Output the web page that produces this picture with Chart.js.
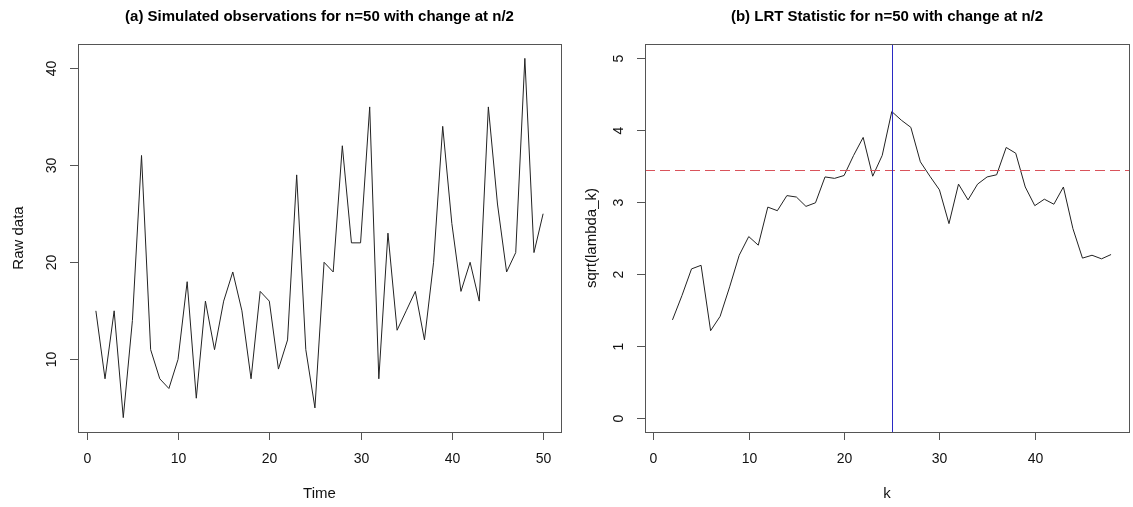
<!DOCTYPE html>
<html>
<head>
<meta charset="utf-8">
<script src="https://cdn.jsdelivr.net/npm/chart.js@4.4.1/dist/chart.umd.min.js"></script>
<style>
  body { margin: 0; background: #fff; }
  .panel { position: absolute; top: 0; }
</style>
</head>
<body>
<div class="panel" style="left:0px"><canvas id="rawChart" width="566" height="507"></canvas></div>
<div class="panel" style="left:566px"><canvas id="lrtChart" width="567" height="507"></canvas></div>
<script>
// Panel (a): simulated observations
const timeIdx = [1, 2, 3, 4, 5, 6, 7, 8, 9, 10, 11, 12, 13, 14, 15, 16, 17, 18, 19, 20,
  21, 22, 23, 24, 25, 26, 27, 28, 29, 30, 31, 32, 33, 34, 35, 36, 37, 38, 39, 40,
  41, 42, 43, 44, 45, 46, 47, 48, 49, 50];
const rawData = [15, 8, 15, 4, 14, 31, 11, 8, 7, 10, 18, 6, 16, 11, 16, 19, 15, 8, 17, 16,
  9, 12, 29, 11, 5, 20, 19, 32, 22, 22, 36, 8, 23, 13, 15, 17, 12, 20, 34, 24,
  17, 20, 16, 36, 26, 19, 21, 41, 21, 25];

// Panel (b): LRT statistic
const kIdx = [2, 3, 4, 5, 6, 7, 8, 9, 10, 11, 12, 13, 14, 15, 16, 17, 18, 19, 20, 21,
  22, 23, 24, 25, 26, 27, 28, 29, 30, 31, 32, 33, 34, 35, 36, 37, 38, 39, 40, 41,
  42, 43, 44, 45, 46, 47, 48];
const sqrtLambda = [1.36, 1.70, 2.07, 2.12, 1.21, 1.41, 1.82, 2.26, 2.52, 2.40, 2.93, 2.88, 3.09, 3.07, 2.94, 2.99, 3.35, 3.33, 3.37, 3.65,
  3.90, 3.36, 3.65, 4.26, 4.14, 4.04, 3.56, 3.36, 3.17, 2.70, 3.25, 3.03, 3.25, 3.35, 3.38, 3.76, 3.68, 3.21, 2.95, 3.04,
  2.97, 3.21, 2.63, 2.22, 2.26, 2.21, 2.27];
const threshold = 3.44;
const changePoint = 25;

// tick labels
const rawXTicks = [0, 10, 20, 30, 40, 50];
const rawYTicks = [10, 20, 30, 40];
const lrtXTicks = [0, 10, 20, 30, 40];
const lrtYTicks = [0, 1, 2, 3, 4, 5];

const FONT = '"Liberation Sans", Arial, sans-serif';

// draws the R-style frame, ticks, labels and titles
function rFrame(opts) {
  return {
    id: 'rFrame',
    afterDraw(chart) {
      const ctx = chart.ctx;
      const a = chart.chartArea;
      const xs = chart.scales.x, ys = chart.scales.y;
      ctx.save();

      // reference lines (abline)
      if (opts.hline !== undefined) {
        const y = Math.round(ys.getPixelForValue(opts.hline)) + 0.5;
        ctx.strokeStyle = '#d9535b';
        ctx.lineWidth = 1;
        ctx.setLineDash([10, 5]);
        ctx.beginPath(); ctx.moveTo(a.left, y); ctx.lineTo(a.right, y); ctx.stroke();
        ctx.setLineDash([]);
      }
      if (opts.vline !== undefined) {
        const x = Math.round(xs.getPixelForValue(opts.vline)) + 0.5;
        ctx.strokeStyle = '#2a2ac4';
        ctx.lineWidth = 1;
        ctx.beginPath(); ctx.moveTo(x, a.top); ctx.lineTo(x, a.bottom); ctx.stroke();
      }

      // box
      ctx.strokeStyle = '#555';
      ctx.lineWidth = 1;
      ctx.strokeRect(Math.round(a.left) + 0.5, Math.round(a.top) + 0.5,
        Math.round(a.right - a.left), Math.round(a.bottom - a.top));

      ctx.fillStyle = '#111';
      ctx.font = '14px ' + FONT;

      // x ticks
      ctx.textAlign = 'center';
      ctx.textBaseline = 'middle';
      opts.xTicks.forEach(v => {
        const x = Math.round(xs.getPixelForValue(v)) + 0.5;
        ctx.beginPath(); ctx.moveTo(x, a.bottom); ctx.lineTo(x, a.bottom + 8); ctx.stroke();
        ctx.fillText(String(v), x, a.bottom + 27);
      });

      // y ticks (labels rotated like R)
      opts.yTicks.forEach(v => {
        const y = Math.round(ys.getPixelForValue(v)) + 0.5;
        ctx.beginPath(); ctx.moveTo(a.left, y); ctx.lineTo(a.left - 8, y); ctx.stroke();
        ctx.save();
        ctx.translate(a.left - 26, y);
        ctx.rotate(-Math.PI / 2);
        ctx.fillText(String(v), 0, 0);
        ctx.restore();
      });

      // axis titles
      ctx.font = '15px ' + FONT;
      ctx.fillText(opts.xTitle, (a.left + a.right) / 2, a.bottom + 62);
      ctx.save();
      ctx.translate(a.left - opts.yTitleGap, (a.top + a.bottom) / 2);
      ctx.rotate(-Math.PI / 2);
      ctx.fillText(opts.yTitle, 0, 0);
      ctx.restore();

      // main title
      ctx.font = 'bold 15px ' + FONT;
      ctx.fillStyle = '#000';
      ctx.fillText(opts.title, (a.left + a.right) / 2, 17);

      ctx.restore();
    }
  };
}

function makeChart(id, xs, ys, range, padding, frameOpts) {
  return new Chart(document.getElementById(id), {
    type: 'line',
    data: {
      datasets: [{
        data: xs.map((x, i) => ({ x: x, y: ys[i] })),
        borderColor: '#222',
        borderWidth: 1,
        pointRadius: 0,
        tension: 0,
        fill: false
      }]
    },
    options: {
      responsive: false,
      animation: false,
      layout: { padding: padding },
      plugins: { legend: { display: false }, tooltip: { enabled: false } },
      scales: {
        x: { type: 'linear', display: false, min: range.xMin, max: range.xMax },
        y: { type: 'linear', display: false, min: range.yMin, max: range.yMax }
      }
    },
    plugins: [rFrame(frameOpts)]
  });
}

makeChart('rawChart', timeIdx, rawData,
  { xMin: -0.96, xMax: 51.96, yMin: 2.52, yMax: 42.48 },
  { left: 78, right: 5, top: 44, bottom: 75 },
  {
    title: '(a) Simulated observations for n=50 with change at n/2',
    xTitle: 'Time', yTitle: 'Raw data', yTitleGap: 59,
    xTicks: rawXTicks, yTicks: rawYTicks
  });

makeChart('lrtChart', kIdx, sqrtLambda,
  { xMin: -0.88, xMax: 49.88, yMin: -0.2, yMax: 5.2 },
  { left: 79, right: 4, top: 44, bottom: 75 },
  {
    title: '(b) LRT Statistic for n=50 with change at n/2',
    xTitle: 'k', yTitle: 'sqrt(lambda_k)', yTitleGap: 53,
    xTicks: lrtXTicks, yTicks: lrtYTicks,
    hline: threshold, vline: changePoint
  });
</script>
</body>
</html>
